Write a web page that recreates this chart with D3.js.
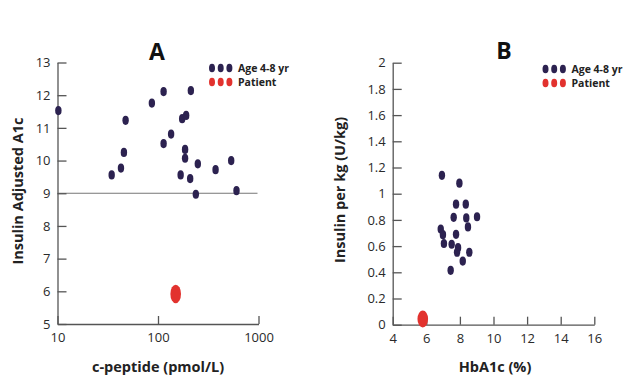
<!DOCTYPE html>
<html><head><meta charset="utf-8">
<script src="https://cdn.jsdelivr.net/npm/d3@7"></script>
<style>body{margin:0;background:#fff}svg{display:block}text{font-family:"Open Sans",sans-serif}</style>
</head><body><svg id="c" width="628" height="379"></svg>
<script>
// Panel A data
const cPeptide = [10.2, 34.6, 42.8, 45.8, 47.6, 86.9, 113.7, 113.7, 135, 174, 190.6, 212.3, 186, 186, 168, 209, 249, 238, 374, 535, 604];
const adjA1c   = [11.53, 9.56, 9.77, 10.25, 11.23, 11.76, 12.11, 10.52, 10.81, 11.28, 11.38, 12.14, 10.34, 10.07, 9.56, 9.45, 9.9, 8.97, 9.72, 10.0, 9.08];
const patientCPeptide = [150];
const patientAdjA1c = [5.92];
// Panel B data
const hba1c     = [6.93, 7.97, 7.77, 8.35, 7.63, 8.38, 9.02, 8.48, 6.86, 6.99, 7.77, 7.05, 7.51, 7.89, 7.83, 8.56, 8.17, 7.45];
const insulinKg = [1.14, 1.08, 0.92, 0.92, 0.82, 0.815, 0.824, 0.746, 0.73, 0.687, 0.69, 0.62, 0.614, 0.588, 0.553, 0.553, 0.486, 0.415];
const patientHbA1c = [5.79];
const patientInsulin = [0.044];
// Ticks and labels
const ticksA_x = [10, 100, 1000];
const ticksA_y = [5, 6, 7, 8, 9, 10, 11, 12, 13];
const ticksB_x = [4, 6, 8, 10, 12, 14, 16];
const ticksB_y = [0, 0.2, 0.4, 0.6, 0.8, 1, 1.2, 1.4, 1.6, 1.8, 2];
const legendLabels = ["Age 4-8 yr", "Patient"];
const refLineA = 9;

const dark = "#2c2250", red = "#e2322e", axisCol = "#555", labCol = "#2a2a2a";
const svg = d3.select("#c");

function axes(g, x, y, xt, yt, xfmt, yfmt) {
  const ax = g.append("g").attr("transform", `translate(0,${y.range()[0]})`)
    .call(d3.axisBottom(x).tickValues(xt).tickFormat(xfmt).tickSizeInner(-8).tickSizeOuter(0).tickPadding(9));
  const ay = g.append("g").attr("transform", `translate(${x.range()[0]},0)`)
    .call(d3.axisLeft(y).tickValues(yt).tickFormat(yfmt).tickSizeInner(-9).tickSizeOuter(0).tickPadding(7));
  [ax, ay].forEach(a => {
    a.select(".domain").attr("stroke", axisCol).attr("stroke-width", 1.3);
    a.selectAll(".tick line").attr("stroke", axisCol).attr("stroke-width", 1.3);
    a.selectAll(".tick text").attr("fill", labCol).style("font-size", "13px").style("font-family", "'Open Sans',sans-serif");
  });
}

function legend(g, x0, y0) {
  [dark, red].forEach((c, i) => {
    for (let k = 0; k < 3; k++) {
      g.append("ellipse").attr("cx", x0 + k * 8.7).attr("cy", y0 + i * 14).attr("rx", 3).attr("ry", 4.3).attr("fill", c);
    }
    g.append("text").attr("x", x0 + 26).attr("y", y0 + i * 14 + 4).text(legendLabels[i])
      .style("font-size", "10.5px").style("font-weight", "bold").attr("fill", "#222");
  });
}

// Panel A
const xA = d3.scaleLog().domain([10, 1000]).range([57.5, 258.5]);
const yA = d3.scaleLinear().domain([5, 13]).range([324, 62.5]);
const gA = svg.append("g");
gA.append("line").attr("x1", xA(10)).attr("x2", xA(1000) - 1).attr("y1", yA(refLineA)).attr("y2", yA(refLineA))
  .attr("stroke", "#777").attr("stroke-width", 1);
axes(gA, xA, yA, ticksA_x, ticksA_y, d3.format("d"), d3.format("d"));
gA.selectAll(".pt").data(cPeptide.map((d, i) => [d, adjA1c[i]])).enter().append("ellipse")
  .attr("cx", d => xA(d[0])).attr("cy", d => yA(d[1])).attr("rx", 3.2).attr("ry", 4.6).attr("fill", dark);
gA.selectAll(".pp").data(patientCPeptide.map((d, i) => [d, patientAdjA1c[i]])).enter().append("ellipse")
  .attr("cx", d => xA(d[0])).attr("cy", d => yA(d[1])).attr("rx", 5.3).attr("ry", 9.3).attr("fill", red);
gA.append("text").attr("x", 157).attr("y", 60).attr("text-anchor", "middle").text("A")
  .style("font-size", "23px").style("font-weight", "bold").attr("fill", "#111");
gA.append("text").attr("x", 158).attr("y", 372).attr("text-anchor", "middle").text("c-peptide (pmol/L)")
  .style("font-size", "14.5px").style("font-weight", "bold").attr("fill", "#222");
gA.append("text").attr("transform", "translate(23,191) rotate(-90)").attr("text-anchor", "middle").text("Insulin Adjusted A1c")
  .style("font-size", "14.5px").style("font-weight", "bold").attr("fill", "#222");
legend(gA, 212, 68);

// Panel B
const xB = d3.scaleLinear().domain([4, 16]).range([392.7, 594.3]);
const yB = d3.scaleLinear().domain([0, 2]).range([324.7, 62.7]);
const gB = svg.append("g");
axes(gB, xB, yB, ticksB_x, ticksB_y, d3.format("d"), d => d3.format("~g")(d));
gB.selectAll(".pt").data(hba1c.map((d, i) => [d, insulinKg[i]])).enter().append("ellipse")
  .attr("cx", d => xB(d[0])).attr("cy", d => yB(d[1])).attr("rx", 3.2).attr("ry", 4.6).attr("fill", dark);
gB.selectAll(".pp").data(patientHbA1c.map((d, i) => [d, patientInsulin[i]])).enter().append("ellipse")
  .attr("cx", d => xB(d[0])).attr("cy", d => yB(d[1])).attr("rx", 5.3).attr("ry", 8.5).attr("fill", red);
gB.append("text").attr("x", 504).attr("y", 59).attr("text-anchor", "middle").text("B")
  .style("font-size", "23px").style("font-weight", "bold").attr("fill", "#111");
gB.append("text").attr("x", 495).attr("y", 372).attr("text-anchor", "middle").text("HbA1c (%)")
  .style("font-size", "14.5px").style("font-weight", "bold").attr("fill", "#222");
gB.append("text").attr("transform", "translate(345,190) rotate(-90)").attr("text-anchor", "middle").text("Insulin per kg (U/kg)")
  .style("font-size", "14.5px").style("font-weight", "bold").attr("fill", "#222");
legend(gB, 545.5, 69);
</script></body></html>
